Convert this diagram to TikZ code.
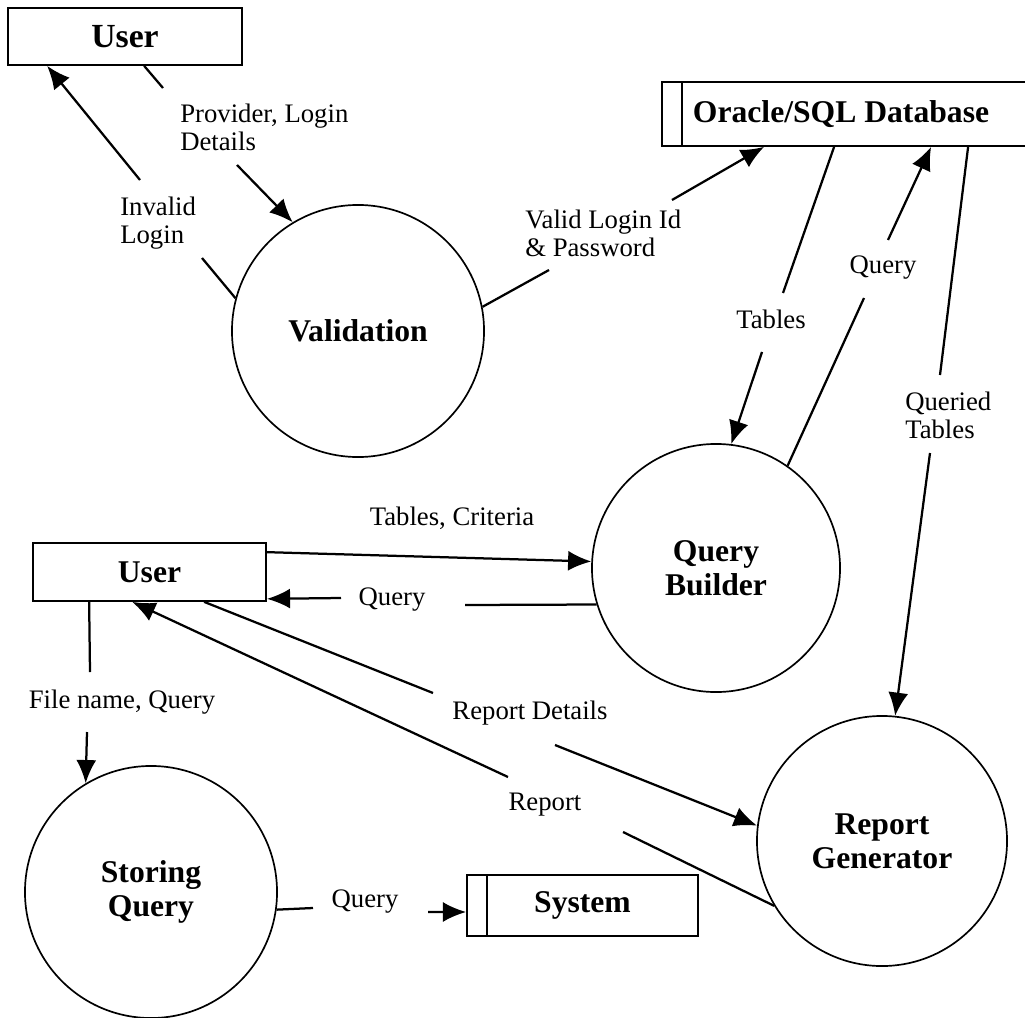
\documentclass[tikz,border=0pt]{standalone}
\usepackage{fontspec}
\setmainfont{Liberation Serif}
\usetikzlibrary{arrows.meta,calc}
\begin{document}
\begin{tikzpicture}[x=0.025cm,y=-0.025cm,
  proc/.style={circle,draw,line width=1.2pt,inner sep=0pt,align=center,
    font=\fontsize{22.5}{24}\selectfont\bfseries},
  ent/.style={rectangle,draw,line width=1.2pt,inner sep=0pt,
    font=\fontsize{22.5}{24}\selectfont\bfseries},
  store/.style={ent,path picture={\draw[line width=1.2pt]
    ([xshift=0.5cm]path picture bounding box.north west) --
    ([xshift=0.5cm]path picture bounding box.south west);}},
  lbl/.style={font=\fontsize{19}{20}\selectfont,inner sep=0pt,align=left},
  flow/.style={line width=1.6pt},
  arr/.style={flow,-{Latex[length=0.58cm,width=0.5cm]}}
]
\useasboundingbox (0,0) rectangle (1025,1018);

% nodes
\node[ent,minimum width=5.85cm,minimum height=1.425cm,
  font=\fontsize{24}{26}\selectfont\bfseries] (user1) at (125,36.5) {User};
\node[store,minimum width=9.45cm,minimum height=1.6cm] (db) at (851,114)
  {Oracle/SQL Database\hspace*{0.5cm}};
\node[proc,minimum size=6.3cm] (val) at (358,331) {Validation};
\node[proc,minimum size=6.2cm] (qb) at (716,568) {Query\\Builder};
\node[ent,minimum width=5.825cm,minimum height=1.45cm] (user2) at (149.5,572) {User};
\node[proc,minimum size=6.25cm] (rg) at (882,841) {Report\\Generator};
\node[proc,minimum size=6.3cm] (sq) at (151,892) {Storing\\Query};
\node[store,minimum width=5.775cm,minimum height=1.525cm] (sys) at (582.5,905.5) {System};

% labels
\node[lbl,anchor=west] (lprov) at (180,127) {Provider, Login\\Details};
\node[lbl,anchor=west] (linv) at (120,223) {Invalid\\Login};
\node[lbl,anchor=west] (lval) at (525,233) {Valid Login Id\\\& Password};
\node[lbl] (ltab) at (771,319) {Tables};
\node[lbl] (lq1) at (883,268) {Query};
\node[lbl,anchor=west] (lqt) at (905,415) {Queried\\Tables};
\node[lbl] (ltc) at (452,518) {Tables, Criteria};
\node[lbl] (lq2) at (392,600) {Query};
\node[lbl] (lfn) at (122,702) {File name, Query};
\node[lbl] (lrd) at (530,713) {Report Details};
\node[lbl] (lrep) at (545,805) {Report};
\node[lbl] (lq3) at (365,902) {Query};

% break points
\coordinate (p1) at (163,88);  \coordinate (p2) at (237,165);
\coordinate (i1) at (202,258); \coordinate (i2) at (140,180);
\coordinate (v1) at (549,270); \coordinate (v2) at (672,200);
\coordinate (t1) at (783,293); \coordinate (t2) at (762,352);
\coordinate (q1) at (864,298); \coordinate (q2) at (888,240);
\coordinate (qt1) at (940,375); \coordinate (qt2) at (930,453);
\coordinate (r1) at (465,605); \coordinate (r2) at (341,598);
\coordinate (f1) at (90,672);  \coordinate (f2) at (87,732);
\coordinate (d1) at (433,693); \coordinate (d2) at (555,745);
\coordinate (e1) at (623,832); \coordinate (e2) at (508,777);
\coordinate (s1) at (313,908); \coordinate (s2) at (428,912);

% connectors
\draw[flow] ($(user1.south west)+(137,0)$) -- (p1);
\draw[arr] (p2) -- (val.121);

\draw[flow] (val.165) -- (i1);
\draw[arr] (i2) -- ($(user1.south west)+(40,0)$);

\draw[flow] (val.11.75) -- (v1);
\draw[arr] (v2) -- ($(db.south west)+(103,0)$);

\draw[flow] ($(db.south west)+(173,0)$) -- (t1);
\draw[arr] (t2) -- (qb.83.6);

\draw[flow] (qb.55.9) -- (q1);
\draw[arr] (q2) -- ($(db.south west)+(270,0)$);

\draw[flow] ($(db.south west)+(307,0)$) -- (qt1);
\draw[arr] (qt2) -- (rg.84);

\draw[arr] ($(user2.north east)+(0,10)$) -- (qb.177.7);

\draw[flow] (qb.197.2) -- (r1);
\draw[arr] (r2) -- ($(user2.south east)+(0,-3)$);

\draw[flow] ($(user2.south west)+(57,0)$) -- (f1);
\draw[arr] (f2) -- (sq.121.4);

\draw[flow] ($(user2.south west)+(172,0)$) -- (d1);
\draw[arr] (d2) -- (rg.173.6);

\draw[flow] (rg.211.6) -- (e1);
\draw[arr] (e2) -- ($(user2.south west)+(100,0)$);

\draw[flow] (sq.352.8) -- (s1);
\draw[arr] (s2) -- ($(sys.west)+(0,6.5)$);
\end{tikzpicture}
\end{document}
